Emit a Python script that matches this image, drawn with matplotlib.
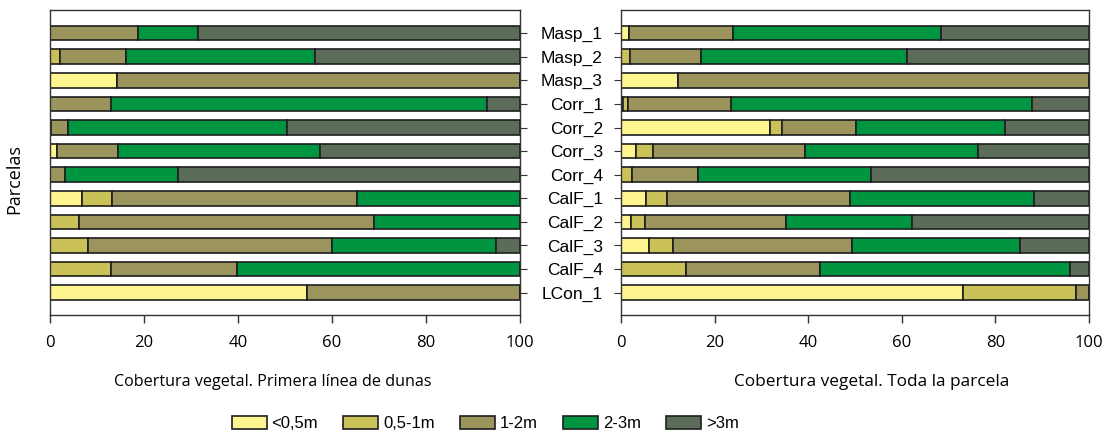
import numpy as np
import matplotlib.pyplot as plt
from matplotlib.patches import Patch

parcelas = ["Masp_1", "Masp_2", "Masp_3", "Corr_1", "Corr_2", "Corr_3",
            "Corr_4", "CalF_1", "CalF_2", "CalF_3", "CalF_4", "LCon_1"]
clases = ["<0,5m", "0,5-1m", "1-2m", "2-3m", ">3m"]
colores = ["#FFF590", "#CAC158", "#9B945C", "#009641", "#5B6C59"]

# % cover per height class, first dune line
primera_linea = {
    "<0,5m":  [0, 0, 14.2, 0, 0, 1.6, 0, 6.8, 0, 0, 0, 54.6],
    "0,5-1m": [0, 2.1, 0, 0, 0.3, 0, 0, 6.5, 6.1, 8.1, 13.0, 0],
    "1-2m":   [18.8, 14.1, 85.8, 13.0, 3.5, 12.8, 3.1, 52.1, 62.9, 51.8, 26.7, 45.4],
    "2-3m":   [12.7, 40.1, 0, 79.9, 46.6, 43.1, 24.2, 34.6, 31.0, 35.0, 60.3, 0],
    ">3m":    [68.5, 43.7, 0, 7.1, 49.6, 42.5, 72.7, 0, 0, 5.1, 0, 0],
}
# % cover per height class, whole plot
toda_parcela = {
    "<0,5m":  [1.8, 0, 12.2, 0.4, 31.9, 3.1, 0, 5.4, 2.2, 5.9, 0, 73.0],
    "0,5-1m": [0, 2.0, 0, 1.1, 2.5, 3.7, 2.4, 4.5, 3.0, 5.2, 13.8, 24.2],
    "1-2m":   [22.1, 15.1, 87.8, 21.9, 15.9, 32.6, 14.0, 39.0, 30.0, 38.3, 28.8, 2.8],
    "2-3m":   [44.4, 44.0, 0, 64.4, 31.8, 36.8, 37.0, 39.3, 26.9, 35.8, 53.3, 0],
    ">3m":    [31.7, 38.9, 0, 12.2, 17.9, 23.8, 46.6, 11.8, 37.9, 14.8, 4.1, 0],
}

fig = plt.figure(figsize=(11.1, 4.37), dpi=100)
ax1 = fig.add_axes([0.045, 0.279, 0.4235, 0.698])
ax2 = fig.add_axes([0.5595, 0.279, 0.4215, 0.698])

y = np.arange(len(parcelas))
tick_font = "Open Sans"

for ax, datos in [(ax1, primera_linea), (ax2, toda_parcela)]:
    left = np.zeros(len(parcelas))
    for clase, col in zip(clases, colores):
        vals = np.array(datos[clase])
        ax.barh(y, vals, left=left, height=0.62, color=col,
                edgecolor="#1e1e1e", linewidth=1.2)
        left += vals
    ax.set_xlim(0, 100)
    ax.set_ylim(11.95, -0.98)
    ax.set_xticks(range(0, 101, 20))
    for lab in ax.get_xticklabels():
        lab.set_fontfamily(tick_font)
        lab.set_fontsize(12)
    for s in ax.spines.values():
        s.set_color("#333333")
        s.set_linewidth(1.0)
    ax.tick_params(axis="x", length=6, width=1, color="#333333", pad=8)

ax1.set_yticks(y)
ax1.yaxis.tick_right()
ax1.set_yticklabels([])
ax1.tick_params(axis="y", length=5, color="#333333")

ax2.set_yticks(y)
ax2.set_yticklabels(parcelas, fontfamily="Liberation Sans", fontsize=12.5)
ax2.tick_params(axis="y", length=5, color="#333333", pad=8)

ax1.set_xlabel("Cobertura vegetal. Primera línea de dunas",
               fontfamily=tick_font, fontsize=11.6)
ax2.set_xlabel("Cobertura vegetal. Toda la parcela",
               fontfamily=tick_font, fontsize=12.4)
ax1.xaxis.set_label_coords(0.474, -0.22)
ax2.xaxis.set_label_coords(0.536, -0.22)
ax1.xaxis.label.set_va("center")
ax2.xaxis.label.set_va("center")
fig.text(0.013, 0.59, "Parcelas", rotation=90, va="center", ha="center",
         fontfamily=tick_font, fontsize=13)

handles = [Patch(facecolor=c, edgecolor="#1e1e1e", linewidth=1.2) for c in colores]
fig.legend(handles, clases, loc="center", bbox_to_anchor=(0.437, 0.03), ncol=5,
           frameon=False, handlelength=2.1, handleheight=0.8, handletextpad=0.3,
           columnspacing=1.5, prop={"family": "Liberation Sans", "size": 12})

plt.savefig("out.png", dpi=100)
